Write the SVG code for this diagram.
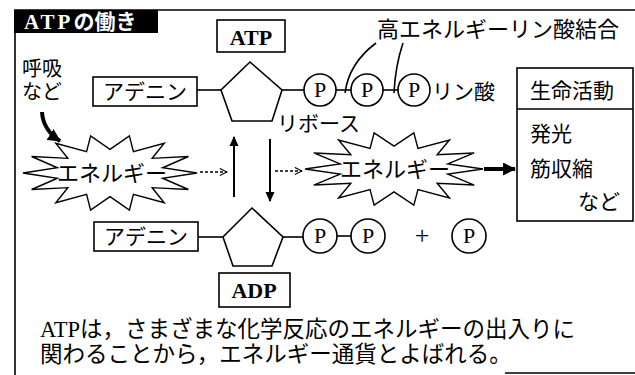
<svg xmlns="http://www.w3.org/2000/svg" xmlns:xlink="http://www.w3.org/1999/xlink" width="635" height="375" viewBox="0 0 635 375">
<style>
.ln{stroke:#000;stroke-width:1.6;fill:none}
.bx{stroke:#000;stroke-width:1.6;fill:#fff}
.jp{font-family:"Noto Sans CJK JP","Noto Sans",sans-serif;fill:#000}
.sf{font-family:"Liberation Serif","DejaVu Serif",serif;fill:#000}
.pt{font-family:"Liberation Serif",serif;font-size:22px;text-anchor:middle}
.burst{fill:#fff;stroke:#000;stroke-width:1.4;vector-effect:non-scaling-stroke}
</style>
<defs>
<polygon id="burst" class="burst" points="1,0 0.605,0.138 0.901,0.434 0.485,0.386 0.623,0.782 0.269,0.559 0.223,0.975 0,0.62 -0.223,0.975 -0.269,0.559 -0.623,0.782 -0.485,0.386 -0.901,0.434 -0.605,0.138 -1,0 -0.605,-0.138 -0.901,-0.434 -0.485,-0.386 -0.623,-0.782 -0.269,-0.559 -0.223,-0.975 0,-0.62 0.223,-0.975 0.269,-0.559 0.623,-0.782 0.485,-0.386 0.901,-0.434 0.605,-0.138"/>
<marker id="solid" viewBox="0 0 10 10" refX="9" refY="5" markerWidth="10" markerHeight="10" markerUnits="userSpaceOnUse" orient="auto"><path d="M0,0.5 L10,5 L0,9.5 Z" fill="#000"/></marker>
<marker id="big" viewBox="0 0 12 12" refX="11" refY="6" markerWidth="13" markerHeight="13" markerUnits="userSpaceOnUse" orient="auto"><path d="M0,0 L12,6 L0,12 Z" fill="#000"/></marker>
<marker id="open" viewBox="0 0 10 10" refX="9" refY="5" markerWidth="9" markerHeight="9" markerUnits="userSpaceOnUse" orient="auto"><path d="M1,1 L9,5 L1,9" fill="none" stroke="#000" stroke-width="1.2"/></marker>
</defs>

<g id="frame">
<line class="ln" x1="14" y1="10" x2="635" y2="10"/>
<line class="ln" x1="15" y1="10" x2="15" y2="375"/>
<line class="ln" x1="505" y1="373" x2="635" y2="373"/>
</g>

<g id="title">
<rect x="14" y="10" width="144" height="23" fill="#000"/>
<text x="24" y="29" font-size="21" font-weight="bold" fill="#fff"><tspan font-family="Liberation Serif,serif" fill="#fff" letter-spacing="3">ATP</tspan><tspan font-family="Noto Sans CJK JP,sans-serif" fill="#fff">の働き</tspan></text>
</g>

<g id="atp-label">
<rect class="bx" x="217" y="20" width="68" height="32"/>
<text class="sf" x="251" y="45" font-size="22" font-weight="bold" text-anchor="middle">ATP</text>
</g>

<g id="kokyu">
<text class="jp" x="22" y="76" font-size="20">呼吸</text>
<text class="jp" x="22" y="99" font-size="20">など</text>
</g>

<g id="high-energy-label">
<text class="jp" x="377" y="37" font-size="22">高エネルギーリン酸結合</text>
</g>

<g id="atp-adenine">
<rect class="bx" x="93" y="77" width="104" height="29"/>
<text class="jp" x="145" y="99" font-size="21" text-anchor="middle">アデニン</text>
</g>
<g id="atp-ribose">
<polygon class="bx" points="250,62 282,90 272,121 232,121 221,90"/>
<text class="jp" x="277" y="131" font-size="21">リボース</text>
</g>
<g id="atp-p1"><circle class="bx" cx="320" cy="90" r="16"/><text class="pt" x="320" y="97">P</text></g>
<g id="atp-p2"><circle class="bx" cx="367" cy="90" r="16"/><text class="pt" x="367" y="97">P</text></g>
<g id="atp-p3"><circle class="bx" cx="414" cy="90" r="16"/><text class="pt" x="414" y="97">P</text></g>
<g id="rinsan"><text class="jp" x="432" y="99" font-size="21">リン酸</text></g>

<g id="energy-left">
<use xlink:href="#burst" transform="translate(110,173) scale(87,38)"/>
<text class="jp" x="112" y="181" font-size="22" text-anchor="middle">エネルギー</text>
</g>
<g id="energy-right">
<use xlink:href="#burst" transform="translate(394,169) scale(89,37)"/>
<text class="jp" x="395" y="177" font-size="22" text-anchor="middle">エネルギー</text>
</g>

<g id="life">
<rect class="bx" x="517" y="68" width="116" height="153"/>
<line class="ln" x1="517" y1="109" x2="633" y2="109"/>
<text class="jp" x="530" y="98" font-size="21">生命活動</text>
<text class="jp" x="530" y="141" font-size="21">発光</text>
<text class="jp" x="530" y="176" font-size="21">筋収縮</text>
<text class="jp" x="578" y="209" font-size="21">など</text>
</g>

<g id="adp-adenine">
<rect class="bx" x="94" y="222" width="104" height="29"/>
<text class="jp" x="146" y="244" font-size="21" text-anchor="middle">アデニン</text>
</g>
<g id="adp-ribose">
<polygon class="bx" points="252,208 283,237 272,266 233,266 223,237"/>
</g>
<g id="adp-p1"><circle class="bx" cx="320" cy="236" r="17"/><text class="pt" x="320" y="243">P</text></g>
<g id="adp-p2"><circle class="bx" cx="368" cy="236" r="17"/><text class="pt" x="368" y="243">P</text></g>
<g id="plus"><text class="sf" x="422" y="244" font-size="26" text-anchor="middle">+</text></g>
<g id="pi"><circle class="bx" cx="469" cy="236" r="17"/><text class="pt" x="469" y="243">P</text></g>
<g id="adp-label">
<rect class="bx" x="219" y="273" width="71" height="34"/>
<text class="sf" x="254" y="298" font-size="22" font-weight="bold" text-anchor="middle">ADP</text>
</g>

<g id="caption">
<text class="jp" x="40" y="337" font-size="22.5"><tspan font-family="Liberation Serif,serif">ATP</tspan>は，さまざまな化学反応のエネルギーの出入りに</text>
<text class="jp" x="40" y="362" font-size="22.5">関わることから，エネルギー通貨とよばれる。</text>
</g>

<g id="connectors">
<line class="ln" x1="197" y1="90" x2="221" y2="90"/>
<line class="ln" x1="282" y1="90" x2="304" y2="90"/>
<line class="ln" x1="336" y1="90" x2="351" y2="90"/>
<line class="ln" x1="383" y1="90" x2="398" y2="90"/>
<path class="ln" d="M376,43 C360,55 348,70 345,93" stroke-width="1.2"/>
<path class="ln" d="M403,43 C398,58 395,72 394,93" stroke-width="1.2"/>
<line class="ln" x1="198" y1="237" x2="223" y2="237"/>
<line class="ln" x1="283" y1="237" x2="303" y2="237"/>
<line class="ln" x1="337" y1="236" x2="351" y2="236"/>
<path d="M42,112 Q43,130 60,141" stroke="#000" stroke-width="4" fill="none" marker-end="url(#big)"/>
<line x1="200" y1="172" x2="227" y2="172" stroke="#000" stroke-width="1.3" stroke-dasharray="3,2" marker-end="url(#open)"/>
<line x1="275" y1="171" x2="302" y2="171" stroke="#000" stroke-width="1.3" stroke-dasharray="3,2" marker-end="url(#open)"/>
<line x1="234" y1="197" x2="234" y2="137" stroke="#000" stroke-width="2" marker-end="url(#solid)"/>
<line x1="270" y1="139" x2="270" y2="201" stroke="#000" stroke-width="2" marker-end="url(#solid)"/>
<line x1="484" y1="169" x2="515" y2="169" stroke="#000" stroke-width="4" marker-end="url(#big)"/>
</g>
</svg>
